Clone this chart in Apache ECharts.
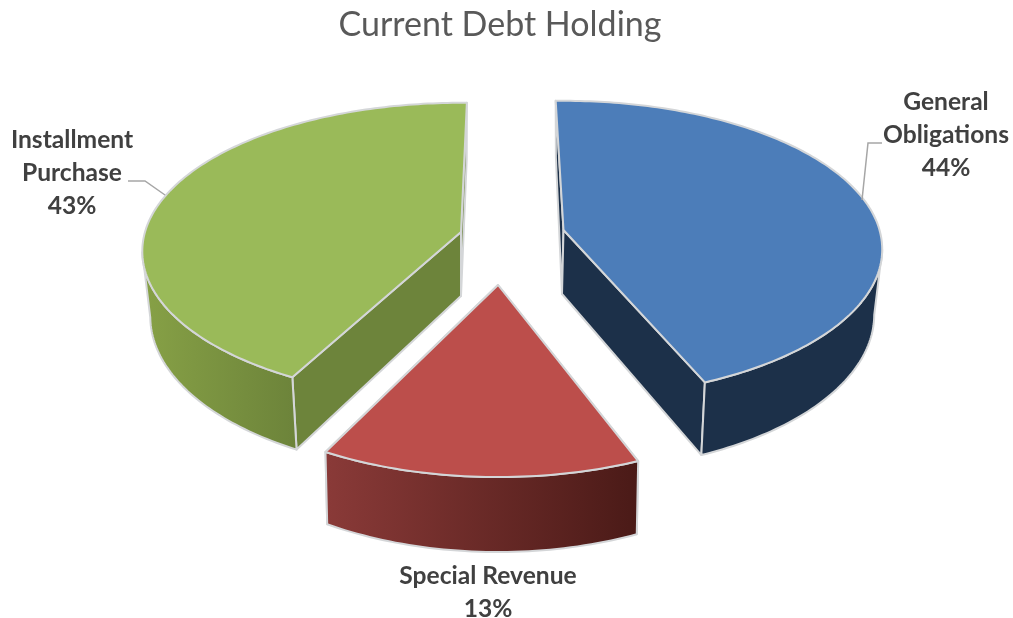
<!DOCTYPE html>
<html>
<head>
<meta charset="utf-8">
<style>html,body{margin:0;padding:0;background:#fff}#c{width:1013px;height:618px}</style>
<script src="https://cdn.jsdelivr.net/npm/echarts@6/dist/echarts.min.js"></script>
</head>
<body>
<div id="c"></div>
<script>
// ---- data ----
var titleText = 'Current Debt Holding';
var categories = ['General\nObligations', 'Special Revenue', 'Installment\nPurchase'];
var shares = [44.0, 12.7, 42.5];

// ---- layout and style (separate from the data) ----
var SLICE_START_DEG = [-1.6, 159.8, 208.2];
var RX = 316, RY = 146;
var APEX = [[563.5, 230], [498, 285], [461, 232]];
var APEX_BOTTOM_DX = [-1.5, 0, 0];
var SCALE = [1, 0.947, 1];
var PERSP = [0.13, 0.28, 0.13];
var DEPTH = [64, 54, 64];
var BOTTOM_X = [0.975, 0.99, 0.975];
var TOP_FILL = ['#4c7db9', '#bc4e4b', '#9aba59'];
var FACE_FILL = ['#1c3049', '#5e2624', '#6d843b'];
var WALL_STOPS = [['#1c3049', '#1c3049'], ['#8a3a38', '#4a1a17'], ['#87a146', '#6c833a']];
var RIM = '#d4d6d8';
var LABEL_POS = [[946, 135], [488, 593], [72, 173]];
var LABEL_COLOR = '#404040';
var LEADERS = [
  [[862, 200], [868, 143], [882, 143]],
  null,
  [[165, 195], [145, 181], [128, 181]]
];

function project(i, deg) {
  var t = deg * Math.PI / 180, X = Math.sin(t), Y = Math.cos(t);
  var w = 1 + PERSP[i] * Y, s = SCALE[i];
  var x = RX * s * X / w, y = -RY * s * Y / w;
  return {
    top: [APEX[i][0] + x, APEX[i][1] + y],
    bot: [APEX[i][0] + x * BOTTOM_X[i], APEX[i][1] + y + DEPTH[i] / w],
    Y: Y
  };
}

function renderSlice(params, api) {
  var i = params.dataIndex;
  var a0 = SLICE_START_DEG[i];
  var a1 = a0 + api.value(0) * 3.6;

  var rim = [], wallTop = [], wallBot = [];
  var n = Math.max(2, Math.round(a1 - a0));
  for (var j = 0; j <= n; j++) {
    var p = project(i, a0 + (a1 - a0) * j / n);
    rim.push(p.top);
    if (p.Y < -PERSP[i]) { wallTop.push(p.top); wallBot.push(p.bot); }
  }
  var ax = APEX[i][0], ay = APEX[i][1];
  var apexBot = [ax + APEX_BOTTOM_DX[i], ay + DEPTH[i]];
  var s = project(i, a0), e = project(i, a1);
  var stroke = { stroke: RIM, lineWidth: 2, lineJoin: 'round' };

  function poly(points, fill) {
    return { type: 'polygon', shape: { points: points },
      style: Object.assign({ fill: fill }, stroke) };
  }
  var wallFill = new echarts.graphic.LinearGradient(0, 0, 1, 0, [
    { offset: 0, color: WALL_STOPS[i][0] }, { offset: 1, color: WALL_STOPS[i][1] }
  ]);

  var children = [
    poly([[ax, ay], s.top, s.bot, apexBot], FACE_FILL[i]),
    poly([[ax, ay], e.top, e.bot, apexBot], FACE_FILL[i]),
    poly(wallTop.concat(wallBot.slice().reverse()), wallFill),
    poly([[ax, ay]].concat(rim), TOP_FILL[i])
  ];

  if (LEADERS[i]) {
    children.push({ type: 'polyline', shape: { points: LEADERS[i] },
      style: { fill: null, stroke: '#a6a6a6', lineWidth: 1.5 } });
  }
  children.push({
    type: 'text', x: LABEL_POS[i][0], y: LABEL_POS[i][1],
    style: {
      text: categories[i] + '\n' + Math.round(api.value(0)) + '%',
      font: 'bold 24.6px Lato', fill: LABEL_COLOR, lineHeight: 33,
      align: 'center', verticalAlign: 'middle'
    }
  });
  return { type: 'group', children: children };
}

var chart = echarts.init(document.getElementById('c'), null, { renderer: 'canvas' });
chart.setOption({
  animation: false,
  backgroundColor: '#fff',
  title: {
    text: titleText, left: 495, top: 3, textAlign: 'center',
    textStyle: { fontFamily: 'Lato', fontWeight: 'normal', fontSize: 34, color: '#595959' }
  },
  series: [{
    type: 'custom',
    coordinateSystem: 'none',
    silent: true,
    data: shares.map(function (v, i) { return { name: categories[i], value: [v] }; }),
    renderItem: renderSlice
  }]
});
</script>
</body>
</html>
